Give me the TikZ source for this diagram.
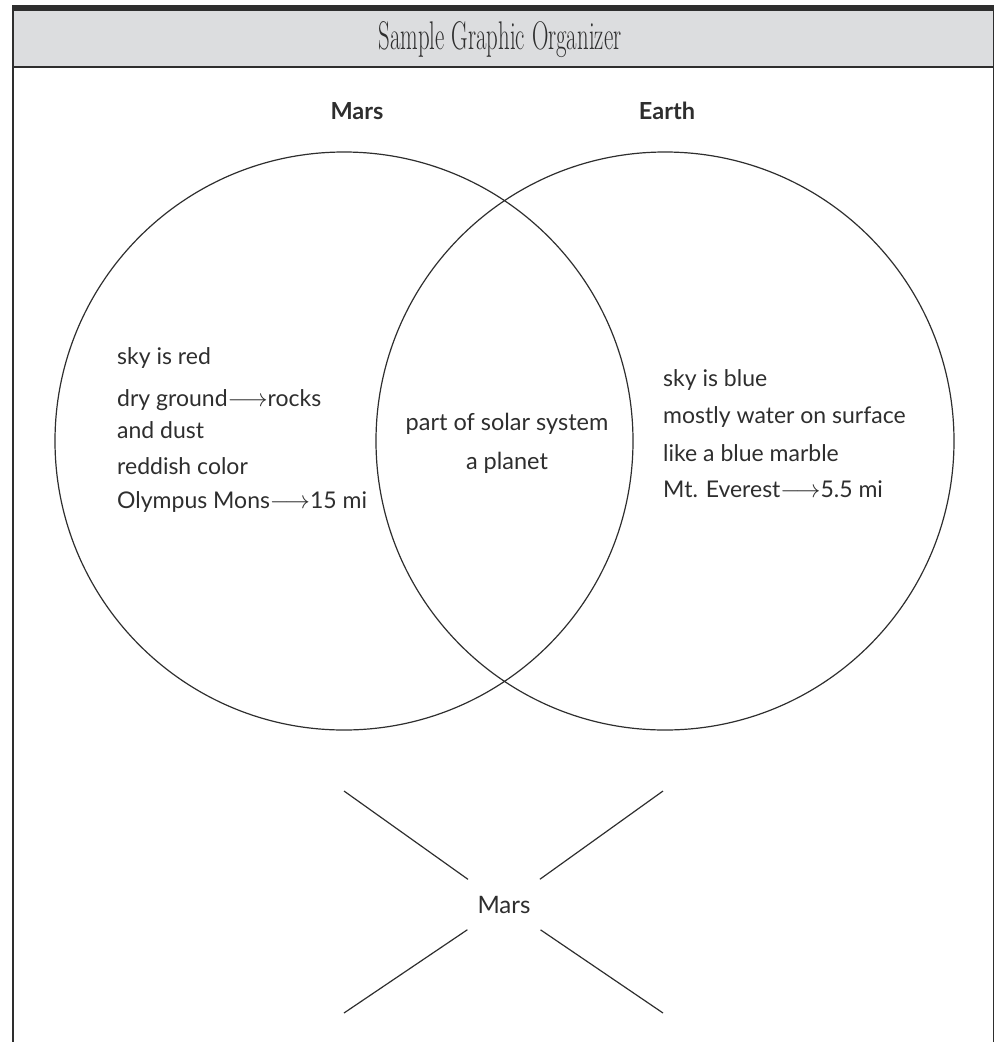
\documentclass[tikz,border=0pt]{standalone}
\usepackage{fontspec}
\newfontfamily\hand{Lato}
\usepackage{graphicx}
\definecolor{headgray}{HTML}{DCDDDF}
\definecolor{ink}{HTML}{2E2E2E}
\tikzset{
  frame/.style={draw=ink, line width=1.5pt},
  venn/.style={circle, draw=ink, line width=1.2pt, minimum size=578pt, inner sep=0pt},
  txt/.style={anchor=west, inner sep=0pt, text=ink, font=\hand\fontsize{23}{27}\selectfont},
  ctxt/.style={anchor=center, inner sep=0pt, text=ink, font=\hand\fontsize{23.5}{27}\selectfont},
  lbl/.style={anchor=center, inner sep=0pt, text=ink, font=\hand\bfseries\fontsize{23.5}{27}\selectfont},
  spoke/.style={draw=ink, line width=1.2pt}
}
\newcommand{\arr}{$\longrightarrow$}
\begin{document}
\begin{tikzpicture}[x=1pt,y=-1pt]
\useasboundingbox (0,0) rectangle (998,1042);
% header
\fill[ink] (12,5) rectangle (994,11);
\fill[headgray] (12,11) rectangle (994,67);
\draw[frame] (12.75,5) -- (12.75,1042);
\draw[frame] (993.25,5) -- (993.25,1042);
\draw[frame] (12,67) -- (994,67);
\node[text=ink] (title) at (500,40) {\scalebox{0.57}[1]{\fontsize{40}{46}\selectfont Sample Graphic Organizer}};
% labels
\node[lbl] (marslbl) at (357,111) {Mars};
\node[lbl] (earthlbl) at (667,111) {Earth};
% circles
\node[venn] (marsc) at (344,441) {};
\node[venn] (earthc) at (665,441) {};
% Mars text
\node[txt] (m1) at (117,358) {sky is red};
\node[txt] (m2) at (117,400) {dry ground\arr rocks};
\node[txt] (m3) at (117,430) {and dust};
\node[txt] (m4) at (117,466) {reddish color};
\node[txt] (m5) at (117,502) {Olympus Mons\arr 15 mi};
% shared text
\node[ctxt] (c1) at (507,424) {part of solar system};
\node[ctxt] (c2) at (507,463) {a planet};
% Earth text
\node[txt] (e1) at (663,380) {sky is blue};
\node[txt] (e2) at (663,417) {mostly water on surface};
\node[txt] (e3) at (663,453) {like a blue marble};
\node[txt] (e4) at (663,489) {Mt. Everest\arr 5.5 mi};
% spider
\node[circle, minimum size=88pt, inner sep=0pt, text=ink, font=\hand\fontsize{24}{28}\selectfont] (hub) at (504,905) {Mars};
\coordinate (tl) at (344,791);
\coordinate (tr) at (663,791);
\coordinate (bl) at (344,1013);
\coordinate (br) at (663,1013);
\draw[spoke] (tl) -- (hub);
\draw[spoke] (tr) -- (hub);
\draw[spoke] (bl) -- (hub);
\draw[spoke] (br) -- (hub);
\end{tikzpicture}
\end{document}
